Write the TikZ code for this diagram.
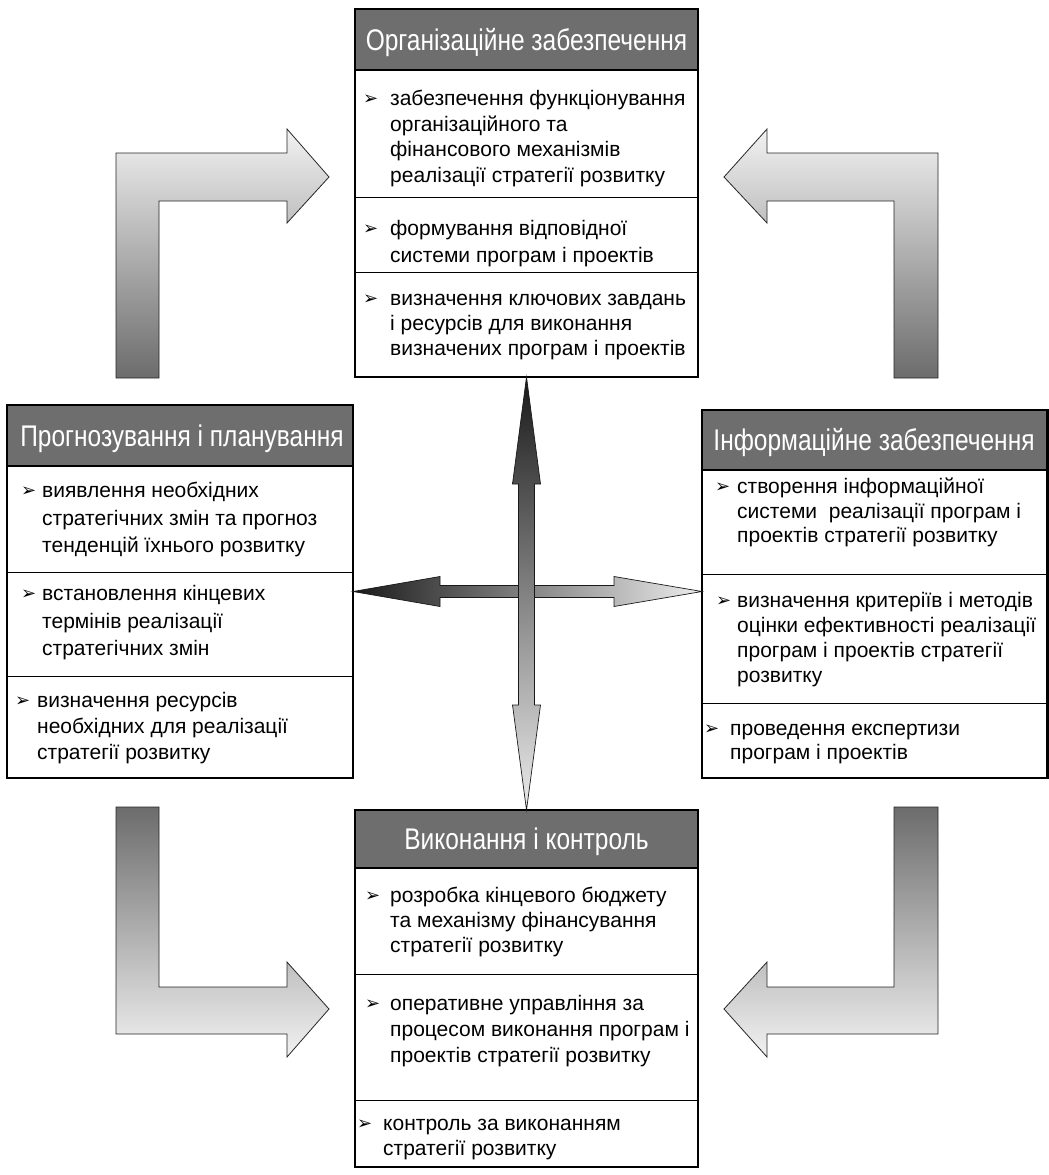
\documentclass[tikz,border=0pt]{standalone}
\usepackage{fontspec}
\setmainfont{Liberation Sans}
\newfontfamily\dejavu{DejaVu Sans}
\usetikzlibrary{calc}
\definecolor{hdrgray}{HTML}{6E6E6E}
\definecolor{lightg}{HTML}{F2F2F2}
\definecolor{darkg}{HTML}{6C6C6C}
\newcommand{\itemblock}[6]{%
  \node[bul] (#1b) at (#2,#4) {➢};
  \node[itm] (#1t) at (#3,#4) {\parbox[t]{330pt}{\fontsize{21}{#5}\selectfont #6}};
}
\newcommand{\hdrtitle}[4]{%
  \node[hdrtext] (#1) at (#2,#3) {\scalebox{0.845}[1.03]{#4}};
}
\begin{document}
\begin{tikzpicture}[x=1pt,y=-1pt,
  frame/.style={line width=2.4pt},
  sep/.style={line width=0.9pt},
  boxframe/.style={draw, line width=2.4pt, inner sep=0, outer sep=0, anchor=north west},
  hdrtext/.style={text=white, anchor=base, inner sep=0, font=\fontsize{29}{32}\selectfont},
  itm/.style={anchor=base west, inner sep=0},
  bul/.style={anchor=base west, inner sep=0, yshift=1pt, font=\dejavu\fontsize{18}{18}\selectfont},
  bent/.style={draw=black!85, line width=0.8pt},
  cross/.style={draw=black!90, line width=0.7pt},
]
\useasboundingbox (0,0) rectangle (1049,1175);

% ---------- bent arrows ----------
\shade[bent, top color=lightg, bottom color=darkg]
  (116,378) -- (116,153) -- (287,153) -- (287,129) -- (329,177) -- (287,223) -- (287,201) -- (159,201) -- (159,378) -- cycle;
\shade[bent, top color=lightg, bottom color=darkg]
  (938,378) -- (938,153) -- (767,153) -- (767,129) -- (724,177) -- (767,223) -- (767,201) -- (894,201) -- (894,378) -- cycle;
\shade[bent, top color=darkg, bottom color=lightg]
  (116,807) -- (159,807) -- (159,987) -- (287,987) -- (287,962) -- (329,1009) -- (287,1057) -- (287,1034) -- (116,1034) -- cycle;
\shade[bent, top color=darkg, bottom color=lightg]
  (938,807) -- (894,807) -- (894,987) -- (767,987) -- (767,962) -- (724,1009) -- (767,1057) -- (767,1034) -- (938,1034) -- cycle;

% ---------- top box ----------
\fill[hdrgray] (355,9) rectangle (698,70);
\node[boxframe, minimum width=343pt, minimum height=368pt] (org) at (355,9) {};
\draw[frame] (355,70) -- (698,70);
\draw[sep] (355,197) -- (698,197);
\draw[sep] (355,272) -- (698,272);
\hdrtitle{orgh}{526.5}{50}{Організаційне забезпечення}
\itemblock{orga}{363}{390}{105.5}{25.5}{забезпечення функціонування\\організаційного та\\фінансового механізмів\\реалізації стратегії розвитку}
\itemblock{orgb}{363}{390}{235.5}{26.5}{формування відповідної\\системи програм і проектів}
\itemblock{orgc}{363}{390}{305.5}{25}{визначення ключових завдань\\і ресурсів для виконання\\визначених програм і проектів}

% ---------- left box ----------
\fill[hdrgray] (7,405) rectangle (353,466);
\node[boxframe, minimum width=346pt, minimum height=373pt] (prog) at (7,405) {};
\draw[frame] (7,466) -- (353,466);
\draw[sep] (7,572) -- (353,572);
\draw[sep] (7,676) -- (353,676);
\hdrtitle{progh}{182}{446}{Прогнозування і планування}
\itemblock{proga}{21}{42}{497.5}{27.5}{виявлення необхідних\\стратегічних змін та прогноз\\тенденцій їхнього розвитку}
\itemblock{progb}{21}{42}{600.5}{27.5}{встановлення кінцевих\\термінів реалізації\\стратегічних змін}
\itemblock{progc}{15}{37}{707.5}{26}{визначення ресурсів\\необхідних для реалізації\\стратегії розвитку}

% ---------- right box ----------
\fill[hdrgray] (702,410) rectangle (1047.5,470);
\node[boxframe, minimum width=345.5pt, minimum height=368pt] (inf) at (702,410) {};
\draw[frame] (702,470) -- (1047.5,470);
\draw[sep] (702,574) -- (1047.5,574);
\draw[sep] (702,703) -- (1047.5,703);
\hdrtitle{infh}{874}{450.5}{Інформаційне забезпечення}
\itemblock{infa}{715}{737}{493.5}{24.5}{створення інформаційної\\системи\ \ реалізації програм і\\проектів стратегії розвитку}
\itemblock{infb}{716}{737}{607.5}{25}{визначення критеріїв і методів\\оцінки ефективності реалізації\\програм і проектів стратегії\\розвитку}
\itemblock{infc}{704}{730}{735.5}{23.5}{проведення експертизи\\програм і проектів}

% ---------- bottom box ----------
\fill[hdrgray] (355,810) rectangle (698,868);
\node[boxframe, minimum width=343pt, minimum height=357pt] (vyk) at (355,810) {};
\draw[frame] (355,868) -- (698,868);
\draw[sep] (355,974) -- (698,974);
\draw[sep] (355,1100) -- (698,1100);
\hdrtitle{vykh}{526.5}{849.5}{Виконання і контроль}
\itemblock{vyka}{365}{390}{902.5}{25}{розробка кінцевого бюджету\\та механізму фінансування\\стратегії розвитку}
\itemblock{vykb}{365}{390}{1010.5}{26}{оперативне управління за\\процесом виконання програм і\\проектів стратегії розвитку}
\itemblock{vykc}{357}{383}{1130.5}{25}{контроль за виконанням\\стратегії розвитку}

% ---------- central double arrows ----------
\coordinate (hl) at (prog.east);
\coordinate (hr) at (inf.west |- prog.east);
\coordinate (vt) at (org.south);
\coordinate (vb) at (vyk.north);
\shade[cross, left color=black!90, right color=black!7]
  (hl) -- ($(hl)+(87,-15)$) -- ($(hl)+(87,-6)$) -- ($(hr)+(-88,-6)$) -- ($(hr)+(-88,-15)$) -- (hr)
  -- ($(hr)+(-88,15)$) -- ($(hr)+(-88,6)$) -- ($(hl)+(87,6)$) -- ($(hl)+(87,15)$) -- cycle;
\shade[cross, top color=black!90, bottom color=black!8]
  (vt) -- ($(vt)+(14,107)$) -- ($(vt)+(8,107)$) -- ($(vb)+(8,-105)$) -- ($(vb)+(14,-105)$) -- (vb)
  -- ($(vb)+(-14,-105)$) -- ($(vb)+(-8,-105)$) -- ($(vt)+(-8,107)$) -- ($(vt)+(-14,107)$) -- cycle;
\end{tikzpicture}
\end{document}
